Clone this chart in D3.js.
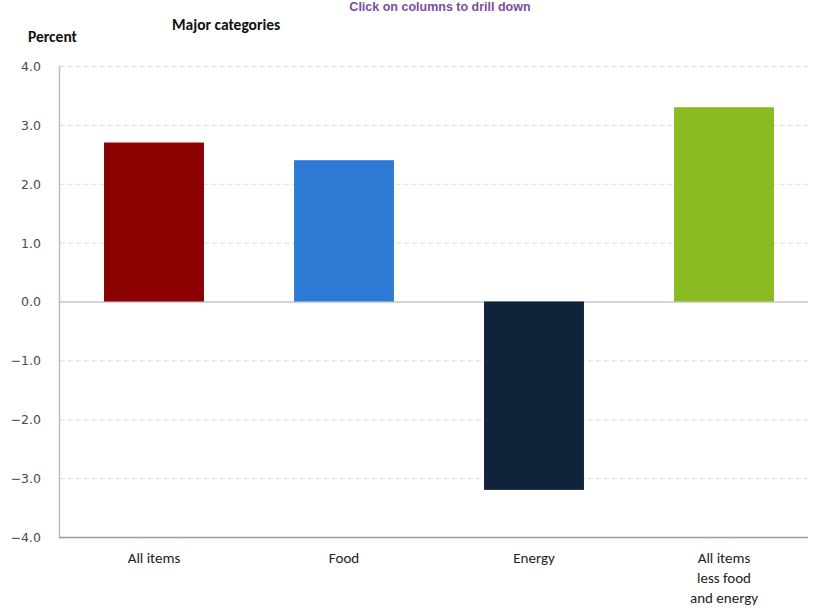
<!DOCTYPE html>
<html><head><meta charset="utf-8">
<script src="https://cdn.jsdelivr.net/npm/d3@7"></script>
<style>body{margin:0;background:#fff}svg{display:block}</style>
</head><body>
<svg id="c" width="817" height="610"></svg>
<script>
const categories = [["All items"], ["Food"], ["Energy"], ["All items", "less food", "and energy"]];
const values = [2.7, 2.4, -3.2, 3.3];
const colors = ["#8B0000", "#2E7BD6", "#0F243A", "#8ABB22"];
const yTicks = [-4, -3, -2, -1, 0, 1, 2, 3, 4];

const svg = d3.select("#c");
const x = d3.scaleBand().domain(d3.range(categories.length)).range([59, 819]).paddingInner(0.474).paddingOuter(0.237);
const y = d3.scaleLinear().domain([-4, 4]).range([537, 66]);

// grid
svg.append("g").selectAll("line").data(yTicks.filter(t => t !== 0 && t !== -4)).join("line")
  .attr("x1", 60).attr("x2", 808).attr("y1", d => y(d) + 0.5).attr("y2", d => y(d) + 0.5)
  .attr("stroke", "#dcdcdc").attr("stroke-dasharray", "5,3").attr("stroke-width", 1);

// zero line
svg.append("line").attr("x1", 60).attr("x2", 808).attr("y1", y(0) + 0.5).attr("y2", y(0) + 0.5)
  .attr("stroke", "#c4c4c4").attr("stroke-width", 1.5);

// bars
svg.append("g").selectAll("rect").data(values).join("rect")
  .attr("x", (d, i) => x(i)).attr("width", x.bandwidth())
  .attr("y", d => y(Math.max(0, d))).attr("height", d => Math.abs(y(d) - y(0)))
  .attr("fill", (d, i) => colors[i]);

// y axis line
svg.append("line").attr("x1", 59.5).attr("x2", 59.5).attr("y1", 66).attr("y2", 538)
  .attr("stroke", "#bdbdbd").attr("stroke-width", 1.5);
// bottom axis line
svg.append("line").attr("x1", 59).attr("x2", 808).attr("y1", 537.5).attr("y2", 537.5)
  .attr("stroke", "#9a9a9a").attr("stroke-width", 1.5);

// y tick labels
const yAxis = d3.axisLeft(y).tickValues(yTicks).tickFormat(d => d3.format(".1f")(d).replace("-", "\u2212")).tickSize(0).tickPadding(18);
const ga = svg.append("g").attr("transform", "translate(59,0)").call(yAxis);
ga.select(".domain").remove();
ga.selectAll("text").attr("font-family", "DejaVu Sans, Verdana, sans-serif").attr("font-size", 12.5)
  .attr("fill", "#4a4a4a").attr("dy", "0.35em");

// category labels
const xl = svg.append("g").attr("font-family", "Carlito, Liberation Sans, Arial, sans-serif").attr("font-size", 15).attr("fill", "#222");
categories.forEach((lines, i) => {
  lines.forEach((t, j) => {
    xl.append("text").attr("x", x(i) + x.bandwidth() / 2).attr("y", 563 + j * 20)
      .attr("text-anchor", "middle").text(t);
  });
});

// titles
svg.append("text").attr("x", 28).attr("y", 42).attr("font-family", "Carlito, Liberation Sans, Arial, sans-serif")
  .attr("font-size", 15.5).attr("font-weight", "bold").attr("fill", "#111").text("Percent");
svg.append("text").attr("x", 172).attr("y", 30).attr("font-family", "Carlito, Liberation Sans, Arial, sans-serif")
  .attr("font-size", 15.5).attr("font-weight", "bold").attr("fill", "#111").text("Major categories");
svg.append("text").attr("x", 440).attr("y", 11).attr("text-anchor", "middle").attr("font-family", "Liberation Sans, Arial, sans-serif")
  .attr("font-size", 12.5).attr("font-weight", "bold").attr("fill", "#7A4E9E").text("Click on columns to drill down");
</script>
</body></html>
